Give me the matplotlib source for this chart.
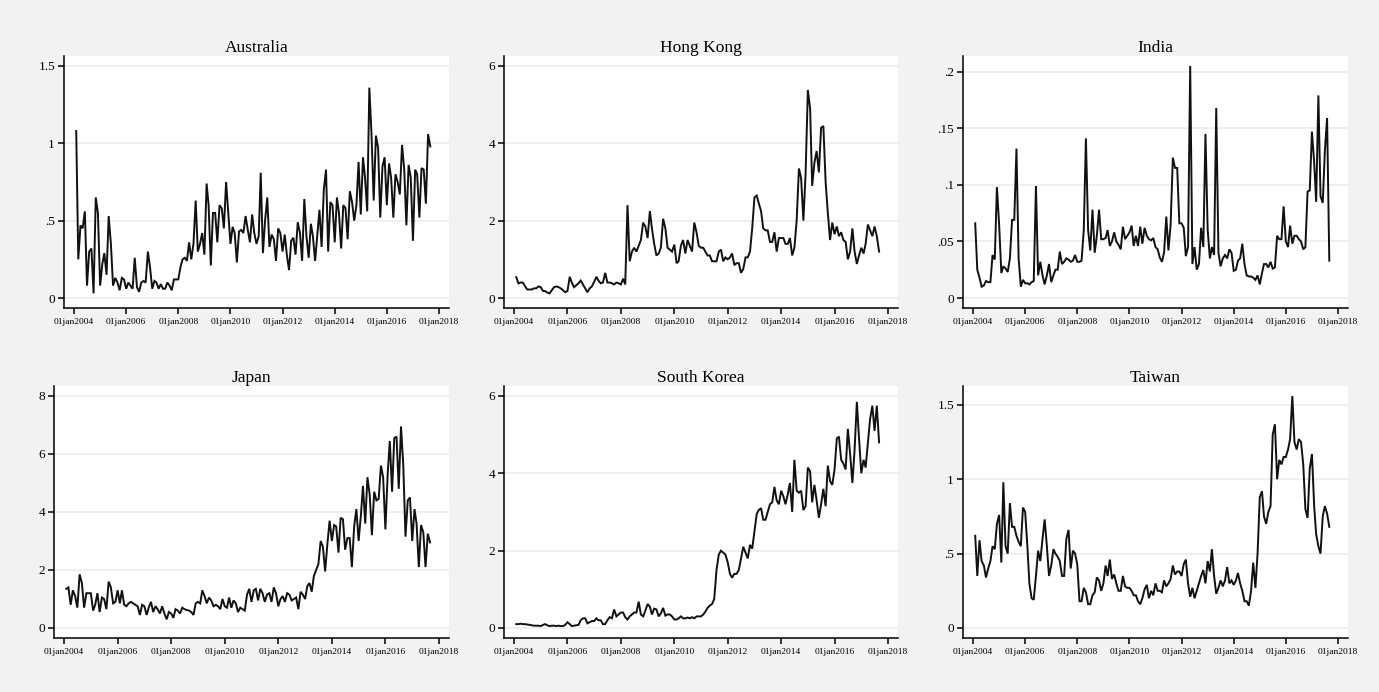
import numpy as np
import pandas as pd
import matplotlib
matplotlib.use("Agg")
import matplotlib.pyplot as plt
import matplotlib.dates as mdates

plt.rcParams['font.family'] = ['Liberation Serif', 'DejaVu Serif']

# Monthly observations, Feb 2004 - Sep 2017
dates = pd.date_range('2004-02-01', '2017-09-01', freq='MS')

australia = [
    1.08, 0.25, 0.47, 0.45, 0.56, 0.08, 0.30, 0.32, 0.03, 0.65, 0.55,
    0.08, 0.22, 0.29, 0.15, 0.53, 0.35, 0.08, 0.13, 0.10, 0.05, 0.13, 0.12,
    0.06, 0.10, 0.08, 0.06, 0.26, 0.07, 0.04, 0.10, 0.11, 0.10, 0.30, 0.20,
    0.06, 0.11, 0.10, 0.06, 0.09, 0.06, 0.06, 0.10, 0.08, 0.05, 0.12, 0.12,
    0.12, 0.20, 0.25, 0.26, 0.24, 0.36, 0.25, 0.35, 0.63, 0.30, 0.35, 0.42,
    0.28, 0.74, 0.60, 0.21, 0.55, 0.55, 0.36, 0.60, 0.58, 0.45, 0.75, 0.55,
    0.35, 0.46, 0.42, 0.23, 0.43, 0.44, 0.42, 0.53, 0.44, 0.36, 0.54, 0.42,
    0.35, 0.40, 0.81, 0.29, 0.50, 0.65, 0.33, 0.41, 0.38, 0.24, 0.45, 0.42,
    0.30, 0.41, 0.28, 0.18, 0.37, 0.39, 0.28, 0.49, 0.42, 0.24, 0.64, 0.40,
    0.26, 0.48, 0.40, 0.24, 0.40, 0.57, 0.33, 0.70, 0.83, 0.30, 0.62, 0.60,
    0.36, 0.65, 0.55, 0.32, 0.60, 0.58, 0.38, 0.69, 0.62, 0.50, 0.60, 0.88,
    0.54, 0.91, 0.78, 0.56, 1.36, 1.05, 0.63, 1.05, 0.97, 0.52, 0.85, 0.91,
    0.60, 0.87, 0.78, 0.52, 0.80, 0.75, 0.67, 0.99, 0.83, 0.47, 0.86, 0.78,
    0.37, 0.83, 0.80, 0.52, 0.84, 0.83, 0.61, 1.06, 0.98,
]

hong_kong = [
    0.54, 0.38, 0.40, 0.40, 0.30, 0.22, 0.22, 0.22, 0.25, 0.25, 0.30,
    0.28, 0.18, 0.18, 0.14, 0.12, 0.20, 0.28, 0.30, 0.28, 0.25, 0.20, 0.15,
    0.18, 0.55, 0.40, 0.28, 0.33, 0.38, 0.45, 0.35, 0.25, 0.15, 0.25, 0.30,
    0.42, 0.55, 0.45, 0.38, 0.40, 0.65, 0.40, 0.40, 0.38, 0.35, 0.40, 0.38,
    0.35, 0.50, 0.35, 2.40, 0.95, 1.20, 1.30, 1.20, 1.35, 1.50, 1.95, 1.85,
    1.55, 2.25, 1.80, 1.40, 1.10, 1.15, 1.30, 2.05, 1.80, 1.30, 1.25, 1.20,
    1.38, 0.90, 0.95, 1.35, 1.50, 1.15, 1.50, 1.35, 1.20, 1.95, 1.70, 1.35,
    1.30, 1.30, 1.20, 1.10, 1.10, 0.95, 0.95, 0.95, 1.20, 1.25, 0.95, 1.05,
    1.00, 1.05, 1.15, 0.85, 0.90, 0.90, 0.65, 0.75, 1.05, 1.05, 1.20, 1.80,
    2.60, 2.65, 2.45, 2.25, 1.80, 1.75, 1.75, 1.45, 1.45, 1.70, 1.20, 1.55,
    1.55, 1.55, 1.40, 1.40, 1.55, 1.10, 1.30, 2.00, 3.35, 3.10, 2.00, 3.20,
    5.38, 4.90, 2.90, 3.50, 3.80, 3.25, 4.40, 4.45, 3.00, 2.20, 1.50, 1.95,
    1.65, 1.85, 1.60, 1.70, 1.50, 1.45, 1.00, 1.20, 1.80, 1.20, 0.88, 1.10,
    1.30, 1.15, 1.40, 1.90, 1.75, 1.60, 1.85, 1.60, 1.20,
]

india = [
    0.066, 0.025, 0.018, 0.010, 0.011, 0.015, 0.014, 0.014, 0.038, 0.034, 0.098,
    0.065, 0.022, 0.028, 0.026, 0.023, 0.035, 0.069, 0.069, 0.132, 0.035, 0.010, 0.016,
    0.013, 0.013, 0.012, 0.014, 0.015, 0.099, 0.020, 0.032, 0.020, 0.012, 0.020, 0.030,
    0.014, 0.020, 0.025, 0.025, 0.041, 0.030, 0.032, 0.035, 0.034, 0.032, 0.033, 0.038,
    0.032, 0.032, 0.033, 0.060, 0.141, 0.060, 0.042, 0.078, 0.040, 0.055, 0.078, 0.052,
    0.052, 0.053, 0.060, 0.046, 0.050, 0.058, 0.050, 0.047, 0.043, 0.063, 0.052, 0.055,
    0.058, 0.064, 0.046, 0.055, 0.046, 0.063, 0.048, 0.062, 0.055, 0.052, 0.051, 0.053,
    0.045, 0.043, 0.036, 0.032, 0.040, 0.072, 0.042, 0.065, 0.124, 0.115, 0.115, 0.066,
    0.066, 0.062, 0.037, 0.045, 0.205, 0.030, 0.045, 0.025, 0.030, 0.062, 0.045, 0.145,
    0.060, 0.035, 0.045, 0.038, 0.168, 0.040, 0.028, 0.035, 0.038, 0.035, 0.043, 0.040,
    0.024, 0.025, 0.033, 0.035, 0.048, 0.030, 0.020, 0.019, 0.019, 0.018, 0.016, 0.020,
    0.012, 0.022, 0.030, 0.030, 0.027, 0.032, 0.026, 0.027, 0.055, 0.052, 0.052, 0.081,
    0.050, 0.045, 0.064, 0.048, 0.055, 0.055, 0.052, 0.050, 0.043, 0.045, 0.094, 0.095,
    0.147, 0.120, 0.085, 0.179, 0.090, 0.084, 0.130, 0.159, 0.033,
]

japan = [
    1.35, 1.40, 0.80, 1.30, 1.10, 0.70, 1.85, 1.55, 0.70, 1.20, 1.20,
    1.20, 0.60, 0.80, 1.20, 0.55, 1.05, 1.00, 0.65, 1.60, 1.40, 0.85, 0.90,
    1.30, 0.85, 1.30, 0.80, 0.75, 0.85, 0.90, 0.85, 0.80, 0.75, 0.45, 0.80,
    0.75, 0.45, 0.70, 0.90, 0.55, 0.75, 0.65, 0.50, 0.75, 0.50, 0.30, 0.55,
    0.50, 0.35, 0.65, 0.60, 0.50, 0.70, 0.65, 0.62, 0.60, 0.55, 0.45, 0.85,
    0.90, 0.85, 1.30, 1.10, 0.85, 1.05, 0.95, 0.75, 0.80, 0.75, 0.65, 1.00,
    0.75, 0.70, 1.05, 0.70, 0.95, 0.85, 0.55, 0.70, 0.65, 0.60, 1.15, 1.35,
    0.90, 1.30, 1.35, 0.95, 1.35, 1.20, 0.90, 1.15, 1.20, 0.90, 1.40, 1.20,
    0.75, 1.00, 1.10, 0.90, 1.20, 1.15, 0.95, 1.00, 1.05, 0.65, 1.25, 1.15,
    1.00, 1.45, 1.55, 1.25, 1.80, 2.00, 2.20, 3.00, 2.80, 1.95, 2.90, 3.70,
    3.00, 3.55, 3.50, 2.60, 3.80, 3.75, 2.70, 3.10, 3.10, 2.10, 3.50, 4.10,
    3.00, 3.90, 4.90, 3.60, 5.20, 4.60, 3.20, 4.70, 4.40, 4.45, 5.60, 5.20,
    3.40, 5.30, 6.45, 4.70, 6.55, 6.60, 4.80, 6.95, 5.60, 3.15, 4.40, 4.50,
    3.00, 4.10, 3.60, 2.10, 3.55, 3.30, 2.10, 3.25, 2.95,
]

south_korea = [
    0.10, 0.10, 0.11, 0.10, 0.10, 0.09, 0.08, 0.07, 0.06, 0.06, 0.06,
    0.05, 0.08, 0.10, 0.07, 0.05, 0.06, 0.06, 0.05, 0.06, 0.05, 0.05, 0.08,
    0.15, 0.10, 0.05, 0.06, 0.07, 0.08, 0.20, 0.25, 0.25, 0.12, 0.15, 0.18,
    0.18, 0.25, 0.20, 0.20, 0.10, 0.10, 0.20, 0.28, 0.25, 0.48, 0.30, 0.35,
    0.40, 0.40, 0.28, 0.22, 0.30, 0.35, 0.40, 0.40, 0.68, 0.35, 0.30, 0.45,
    0.62, 0.55, 0.35, 0.50, 0.48, 0.30, 0.38, 0.52, 0.32, 0.35, 0.35, 0.30,
    0.22, 0.22, 0.25, 0.30, 0.25, 0.25, 0.27, 0.25, 0.28, 0.25, 0.30, 0.30,
    0.30, 0.35, 0.42, 0.52, 0.58, 0.62, 0.75, 1.50, 1.90, 2.00, 1.95, 1.90,
    1.70, 1.40, 1.30, 1.40, 1.40, 1.50, 1.80, 2.10, 1.95, 1.80, 2.15, 2.05,
    2.50, 2.95, 3.05, 3.10, 2.80, 2.80, 3.00, 3.20, 3.25, 3.65, 3.30, 3.20,
    3.55, 3.40, 3.20, 3.45, 3.75, 3.00, 4.35, 3.55, 3.50, 3.55, 3.05, 3.15,
    4.15, 4.05, 3.25, 3.70, 3.30, 2.85, 3.20, 3.60, 3.15, 4.20, 3.80, 3.70,
    4.10, 4.90, 4.95, 4.35, 4.25, 4.10, 5.15, 4.50, 3.75, 4.60, 5.85, 4.90,
    4.00, 4.35, 4.15, 4.80, 5.40, 5.75, 5.10, 5.75, 4.80,
]

taiwan = [
    0.62, 0.35, 0.59, 0.45, 0.42, 0.34, 0.40, 0.45, 0.55, 0.53, 0.70,
    0.76, 0.44, 0.98, 0.55, 0.50, 0.84, 0.68, 0.68, 0.62, 0.58, 0.55, 0.81,
    0.78, 0.55, 0.30, 0.20, 0.19, 0.35, 0.52, 0.45, 0.60, 0.73, 0.55, 0.35,
    0.42, 0.53, 0.50, 0.48, 0.45, 0.35, 0.35, 0.60, 0.66, 0.40, 0.52, 0.50,
    0.43, 0.18, 0.18, 0.27, 0.24, 0.16, 0.16, 0.22, 0.24, 0.34, 0.32, 0.25,
    0.30, 0.42, 0.35, 0.46, 0.33, 0.36, 0.30, 0.25, 0.25, 0.35, 0.28, 0.27,
    0.27, 0.25, 0.22, 0.22, 0.18, 0.16, 0.20, 0.26, 0.29, 0.20, 0.25, 0.22,
    0.30, 0.25, 0.25, 0.24, 0.32, 0.28, 0.30, 0.33, 0.42, 0.36, 0.38, 0.38,
    0.35, 0.43, 0.46, 0.30, 0.21, 0.27, 0.20, 0.25, 0.30, 0.35, 0.39, 0.30,
    0.45, 0.38, 0.53, 0.35, 0.23, 0.27, 0.32, 0.28, 0.32, 0.41, 0.30, 0.32,
    0.29, 0.32, 0.37, 0.30, 0.25, 0.18, 0.18, 0.15, 0.25, 0.44, 0.27, 0.50,
    0.88, 0.92, 0.75, 0.70, 0.78, 0.82, 1.30, 1.37, 1.00, 1.13, 1.10, 1.15,
    1.15, 1.20, 1.27, 1.56, 1.25, 1.20, 1.27, 1.25, 1.10, 0.80, 0.74, 1.07,
    1.17, 0.82, 0.63, 0.55, 0.50, 0.75, 0.82, 0.77, 0.68,
]

titles = ['Australia', 'Hong Kong', 'India', 'Japan', 'South Korea', 'Taiwan']
series = [australia, hong_kong, india, japan, south_korea, taiwan]
yticks = [
    [0, 0.5, 1, 1.5],
    [0, 2, 4, 6],
    [0, 0.05, 0.1, 0.15, 0.2],
    [0, 2, 4, 6, 8],
    [0, 2, 4, 6],
    [0, 0.5, 1, 1.5],
]
ylabels = [
    ['0', '.5', '1', '1.5'],
    ['0', '2', '4', '6'],
    ['0', '.05', '.1', '.15', '.2'],
    ['0', '2', '4', '6', '8'],
    ['0', '2', '4', '6'],
    ['0', '.5', '1', '1.5'],
]
xtick_years = [2004, 2006, 2008, 2010, 2012, 2014, 2016, 2018]
xtick_labels = ['01jan%d' % y for y in xtick_years]

# layout (pixel boxes: left, top, right, bottom)
W, H = 1379, 692
boxes = [
    (64, 56, 449, 308), (504, 56, 898, 308), (963, 56, 1348, 308),
    (54, 386, 449, 638), (504, 386, 898, 638), (963, 386, 1348, 638),
]
PAD = 10  # px inner margin

fig = plt.figure(figsize=(W / 100, H / 100), dpi=100, facecolor='#f2f2f2')
xt = [pd.Timestamp('%d-01-01' % y) for y in xtick_years]
xt_num = mdates.date2num(xt)

for title, vals, yt, yl, (l, t, r, b) in zip(titles, series, yticks, ylabels, boxes):
    ax = fig.add_axes([l / W, 1 - b / H, (r - l) / W, (b - t) / H])
    ax.set_facecolor('white')
    ax.plot(dates, vals, color='#111111', linewidth=1.4, solid_joinstyle='miter')

    x0, x1 = xt_num[0], xt_num[-1]
    px = PAD / ((r - l) - 2 * PAD) * (x1 - x0)
    ax.set_xlim(x0 - px, x1 + px)
    lo = 0.0
    hi = max(yt[-1], max(vals))
    py = PAD / ((b - t) - 2 * PAD) * (hi - lo)
    ax.set_ylim(lo - py, hi + py)

    ax.set_xticks(xt)
    ax.set_xticklabels(xtick_labels, fontsize=6.8)
    ax.set_yticks(yt)
    ax.set_yticklabels(yl, fontsize=9.5)
    ax.tick_params(axis='x', direction='out', length=4, width=1.1, pad=3.5)
    ax.tick_params(axis='y', direction='out', length=4, width=1.1, pad=2.5)

    ax.yaxis.grid(True, color='#ececec', linewidth=1.2)
    ax.xaxis.grid(False)
    ax.set_axisbelow(True)
    for s in ['top', 'right']:
        ax.spines[s].set_visible(False)
    for s in ['left', 'bottom']:
        ax.spines[s].set_linewidth(1.1)
        ax.spines[s].set_color('black')
    ax.set_title(title, fontsize=12.5, pad=2.5)

fig.savefig('out.png', dpi=100, facecolor=fig.get_facecolor())
